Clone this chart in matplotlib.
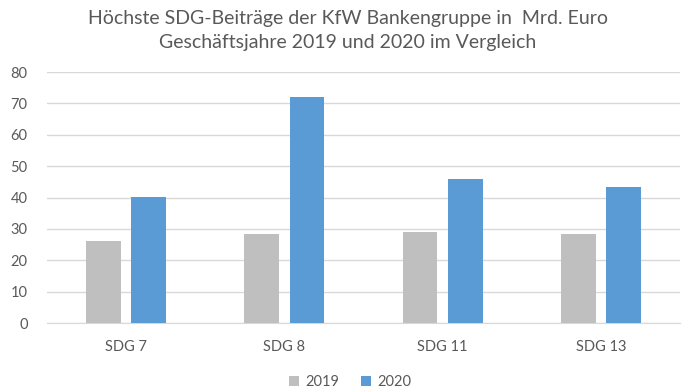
import numpy as np
import matplotlib
matplotlib.use("Agg")
import matplotlib.pyplot as plt

categories = ["SDG 7", "SDG 8", "SDG 11", "SDG 13"]
values_2019 = [26.3, 28.3, 29.0, 28.3]
values_2020 = [40.1, 72.0, 45.9, 43.3]
yticks = [0, 10, 20, 30, 40, 50, 60, 70, 80]

plt.rcParams['font.family'] = ['Lato', 'DejaVu Sans']
textcol = "#595959"

fig = plt.figure(figsize=(6.96, 3.92), dpi=100, facecolor='white')
ax = fig.add_axes([0.0675, 0.176, 0.9095, 0.640])

x = np.arange(len(categories))
w = 0.22
ax.bar(x - 0.143, values_2019, w, color="#BFBFBF", label="2019", zorder=3)
ax.bar(x + 0.143, values_2020, w, color="#5B9BD5", label="2020", zorder=3)

ax.set_xlim(-0.5, len(categories) - 0.5)
ax.set_ylim(0, 80)
ax.set_yticks(yticks)
ax.set_xticks(x)
ax.set_xticklabels(categories)
ax.yaxis.grid(True, color="#D9D9D9", linewidth=1, zorder=0)
for s in ["top", "right", "left"]:
    ax.spines[s].set_visible(False)
ax.spines["bottom"].set_color("#D9D9D9")
ax.tick_params(axis="both", length=0, colors=textcol, labelsize=10.5)
ax.tick_params(axis="x", pad=12)
ax.tick_params(axis="y", pad=14)

fig.text(0.5, 0.953, "Höchste SDG-Beiträge der KfW Bankengruppe in  Mrd. Euro",
         ha="center", va="center", fontsize=14, color=textcol)
fig.text(0.5, 0.891, "Geschäftsjahre 2019 und 2020 im Vergleich",
         ha="center", va="center", fontsize=14, color=textcol)

leg = fig.legend(loc="center", bbox_to_anchor=(0.503, 0.025), ncol=2, frameon=False,
                 fontsize=10.5, handlelength=0.7, handleheight=0.7,
                 handletextpad=0.4, columnspacing=1.5)
for t in leg.get_texts():
    t.set_color(textcol)

fig.savefig("out.png", dpi=100, facecolor='white')
